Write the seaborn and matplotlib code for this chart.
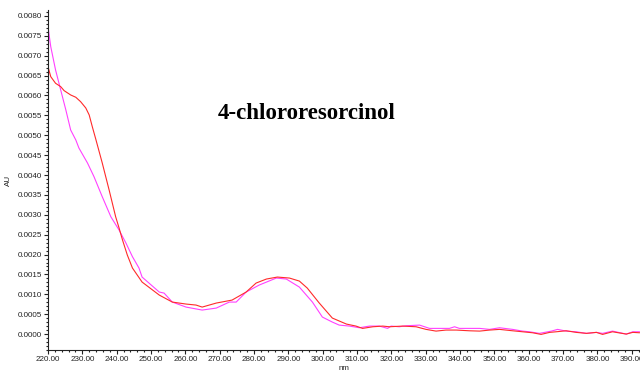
import numpy as np
import pandas as pd
import matplotlib
matplotlib.use("Agg")
import matplotlib.pyplot as plt
from matplotlib.ticker import MultipleLocator, FormatStrFormatter
import seaborn as sns

# Absorbance spectra (wavelength in nm, absorbance in AU)
red_nm = [220.0, 220.8, 222.2, 223.7, 224.7, 226.6, 228.1, 229.5, 231.0, 232.0,
          232.9, 233.9, 235.8, 237.8, 239.7, 240.7, 241.7, 243.1, 244.6, 247.4,
          252.4, 256.2, 260.2, 263.1, 264.9, 269.0, 273.6, 277.7, 280.6, 283.6,
          286.8, 290.3, 293.2, 295.5, 299.0, 302.8, 306.9, 309.7, 311.6, 314.6,
          317.5, 319.4, 323.3, 327.2, 330.1, 333.0, 335.9, 338.9, 342.7, 345.7,
          348.6, 351.5, 355.3, 358.2, 361.1, 363.6, 366.1, 368.0, 370.9, 373.8,
          376.8, 379.7, 381.5, 384.4, 388.4, 390.3, 392.3]
red_au = [0.006725, 0.006473, 0.006307, 0.006222, 0.006121, 0.006013, 0.005955,
          0.005844, 0.005686, 0.005509, 0.005215, 0.004906, 0.004302, 0.003623,
          0.002951, 0.002667, 0.002365, 0.001987, 0.001660, 0.001308, 0.000981,
          0.000805, 0.000755, 0.000730, 0.000679, 0.000780, 0.000855, 0.001057,
          0.001283, 0.001384, 0.001434, 0.001409, 0.001333, 0.001157, 0.000780,
          0.000403, 0.000252, 0.000201, 0.000143, 0.000184, 0.000201, 0.000184,
          0.000201, 0.000184, 0.000118, 0.000075, 0.000101, 0.000101, 0.000083,
          0.000075, 0.000101, 0.000118, 0.000083, 0.000058, 0.000033, -0.000008,
          0.000043, 0.000058, 0.000083, 0.000043, 0.000018, 0.000043, -0.000008,
          0.000058, 0.000000, 0.000043, 0.000033]

mag_nm = [220.0, 220.8, 222.2, 223.7, 225.2, 226.6, 228.1, 229.0, 231.5, 233.4,
          235.8, 238.3, 240.7, 242.7, 244.6, 246.5, 247.4, 252.4, 253.8, 256.2,
          260.2, 264.9, 269.0, 272.8, 274.8, 277.7, 281.5, 286.5, 289.4, 293.2,
          297.0, 299.9, 302.8, 304.8, 307.8, 310.7, 313.6, 316.5, 318.9, 319.9,
          322.3, 324.3, 328.2, 331.1, 334.0, 336.9, 338.4, 339.8, 342.7, 345.7,
          348.6, 351.5, 355.3, 358.2, 360.2, 363.1, 366.6, 368.4, 370.9, 373.8,
          376.8, 379.7, 381.5, 384.4, 388.4, 390.3, 392.3]
mag_au = [0.007731, 0.007228, 0.006642, 0.006138, 0.005635, 0.005132, 0.004881,
          0.004679, 0.004302, 0.003957, 0.003454, 0.002951, 0.002616, 0.002289,
          0.001945, 0.001660, 0.001434, 0.001057, 0.001031, 0.000805, 0.000679,
          0.000604, 0.000654, 0.000805, 0.000805, 0.001057, 0.001233, 0.001409,
          0.001384, 0.001182, 0.000805, 0.000428, 0.000302, 0.000226, 0.000201,
          0.000159, 0.000201, 0.000201, 0.000143, 0.000201, 0.000184, 0.000209,
          0.000226, 0.000143, 0.000143, 0.000143, 0.000184, 0.000143, 0.000143,
          0.000143, 0.000118, 0.000159, 0.000118, 0.000075, 0.000058, 0.000018,
          0.000075, 0.000118, 0.000075, 0.000058, 0.000018, 0.000043, 0.000018,
          0.000075, 0.000000, 0.000058, 0.000058]

title_text = "4-chlororesorcinol"

sns.set_theme(style="ticks")
plt.rcParams["font.family"] = ["Liberation Sans", "DejaVu Sans"]

df_red = pd.DataFrame({"nm": red_nm, "AU": red_au})
df_mag = pd.DataFrame({"nm": mag_nm, "AU": mag_au})

fig = plt.figure(figsize=(6.4, 3.81), dpi=100)
ax = fig.add_axes([0.075, 0.0814, 0.925, 0.8924])

sns.lineplot(data=df_mag, x="nm", y="AU", ax=ax, color="#ff40ff", linewidth=0.8,
             sort=False, estimator=None)
sns.lineplot(data=df_red, x="nm", y="AU", ax=ax, color="#ff2a2a", linewidth=0.8,
             sort=False, estimator=None)

ax.set_xlim(220, 392.4)
ax.set_ylim(-0.0004, 0.00815)

ax.xaxis.set_major_locator(MultipleLocator(10))
ax.xaxis.set_minor_locator(MultipleLocator(2))
ax.yaxis.set_major_locator(MultipleLocator(0.0005))
ax.yaxis.set_minor_locator(MultipleLocator(0.0001))
ax.xaxis.set_major_formatter(FormatStrFormatter("%.2f"))
ax.yaxis.set_major_formatter(FormatStrFormatter("%.4f"))

ax.tick_params(axis="both", which="major", direction="out", length=3, width=0.8,
               labelsize=5.8, colors="#222222", pad=1.5)
ax.tick_params(axis="both", which="minor", direction="out", length=1.5, width=0.8,
               colors="#222222")

for side in ("top", "right"):
    ax.spines[side].set_visible(False)
for side in ("left", "bottom"):
    ax.spines[side].set_linewidth(0.8)
    ax.spines[side].set_color("#222222")

ax.set_xlabel("nm", fontsize=5.8, color="#222222", labelpad=1)
ax.set_ylabel("AU", fontsize=5.8, color="#222222", labelpad=4)

ax.text(0.437, 0.697, title_text, transform=ax.transAxes, ha="center", va="center",
        fontsize=16.5, fontweight="bold", family=["Liberation Serif", "DejaVu Serif"],
        color="black")

fig.savefig("out.png", dpi=100)
